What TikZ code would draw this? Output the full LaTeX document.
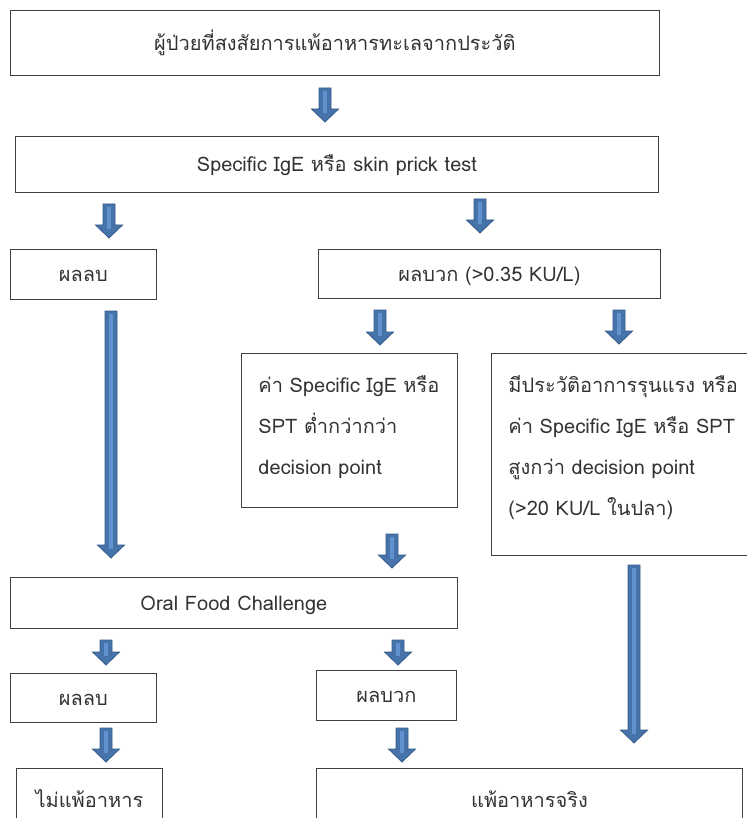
\documentclass[tikz,border=0pt]{standalone}
\usepackage{fontspec}
\setmainfont[Script=Thai]{Loma}
\usetikzlibrary{positioning,calc}

\definecolor{arrowfill}{HTML}{4573AA}
\definecolor{arrowedge}{HTML}{335A8A}
\definecolor{arrowlight}{HTML}{5F92CE}

% block arrow from top point #1 down to tip #2
\newcommand{\flowarrow}[2]{%
  \path[blockarrow] let \p1=(#1), \p2=(#2) in
    (\x1-6pt,\y1) -- (\x1+6pt,\y1) -- (\x1+6pt,\y2+13pt) -- (\x1+13.5pt,\y2+13pt)
    -- (\x1,\y2) -- (\x1-13.5pt,\y2+13pt) -- (\x1-6pt,\y2+13pt) -- cycle;
  \fill[arrowlight] let \p1=(#1), \p2=(#2) in
    (\x1-2pt,\y1-3pt) rectangle (\x1+2pt,\y2+9pt);
}

\begin{document}
\begin{tikzpicture}[x=1pt,y=-1pt,
    box/.style={draw=black!75,line width=0.9pt,rectangle,anchor=north west,
                inner sep=0pt,text=black!80,font=\fontsize{20}{41}\selectfont},
    linebox/.style={box,text height=17pt,text depth=2pt},
    listbox/.style={box,align=left,inner xsep=17pt},
    blockarrow/.style={draw=arrowedge,line width=0.8pt,fill=arrowfill}]

  \useasboundingbox (0,0) rectangle (746,818);

  \node[linebox,minimum width=649,minimum height=65]  (suspect)  at (10,10)   {ผู้ป่วยที่สงสัยการแพ้อาหารทะเลจากประวัติ};
  \node[linebox,minimum width=643,minimum height=56]  (screen)   at (15,136)  {Specific IgE หรือ skin prick test};
  \node[linebox,minimum width=146,minimum height=50]  (negscreen) at (10,249) {ผลลบ};
  \node[linebox,minimum width=342,minimum height=49]  (posscreen) at (318,249) {ผลบวก (>0.35 KU/L)};
  \node[listbox,text width=182,minimum width=216,minimum height=154] (lowlevel) at (241,353)
       {ค่า Specific IgE หรือ\\SPT ต่ำกว่ากว่า\\decision point\rule[-10pt]{0pt}{0pt}};
  \node[listbox,text width=235,minimum width=269,minimum height=202] (highlevel) at (491,353)
       {มีประวัติอาการรุนแรง หรือ\\ค่า Specific IgE หรือ SPT\\สูงกว่า decision point\\(>20 KU/L ในปลา)\rule[-17pt]{0pt}{0pt}};
  \node[linebox,minimum width=447,minimum height=51]  (ofc)      at (10,577)  {Oral Food Challenge};
  \node[linebox,minimum width=146,minimum height=49]  (negofc)   at (10,673)  {ผลลบ};
  \node[linebox,minimum width=140,minimum height=50]  (posofc)   at (316,670) {ผลบวก};
  \node[linebox,minimum width=146,minimum height=64]  (tolerant) at (16,768)  {ไม่แพ้อาหาร};
  \node[linebox,minimum width=426,minimum height=64]  (allergic) at (316,768) {แพ้อาหารจริง};

  % arrow ends
  \coordinate (a1s) at (325,88);   \coordinate (a1e) at (325,122);
  \coordinate (a2s) at (109,204);  \coordinate (a2e) at (109,238);
  \coordinate (a3s) at (480,199);  \coordinate (a3e) at (480,233);
  \coordinate (a4s) at (111,311);  \coordinate (a4e) at (111,558);
  \coordinate (a5s) at (380,310);  \coordinate (a5e) at (380,345);
  \coordinate (a6s) at (619,310);  \coordinate (a6e) at (619,344);
  \coordinate (a7s) at (392,534);  \coordinate (a7e) at (392,568);
  \coordinate (a8s) at (634,565);  \coordinate (a8e) at (634,743);
  \coordinate (a9s) at (106,640);  \coordinate (a9e) at (106,665);
  \coordinate (a10s) at (398,640); \coordinate (a10e) at (398,665);
  \coordinate (a11s) at (106,728); \coordinate (a11e) at (106,762);
  \coordinate (a12s) at (402,728); \coordinate (a12e) at (402,762);

  \flowarrow{a1s}{a1e}
  \flowarrow{a2s}{a2e}
  \flowarrow{a3s}{a3e}
  \flowarrow{a4s}{a4e}
  \flowarrow{a5s}{a5e}
  \flowarrow{a6s}{a6e}
  \flowarrow{a7s}{a7e}
  \flowarrow{a8s}{a8e}
  \flowarrow{a9s}{a9e}
  \flowarrow{a10s}{a10e}
  \flowarrow{a11s}{a11e}
  \flowarrow{a12s}{a12e}
\end{tikzpicture}
\end{document}
